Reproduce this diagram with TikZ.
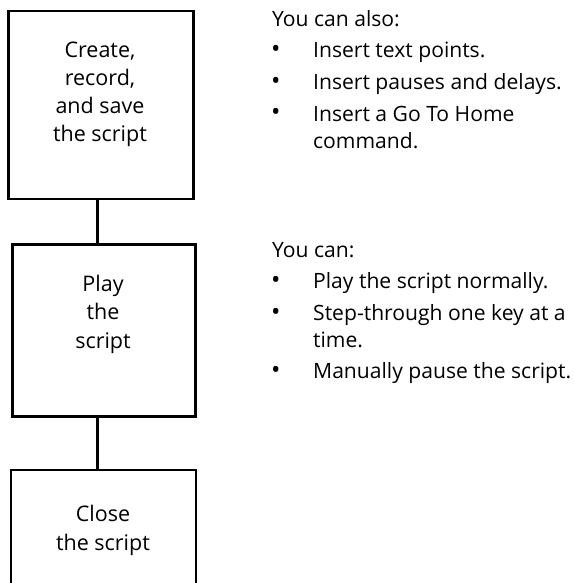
\documentclass[tikz,border=0pt]{standalone}
\usepackage{fontspec}
\setmainfont{Open Sans}
\begin{document}
\begin{tikzpicture}[x=1pt,y=-1pt,
  box/.style={draw,line width=2.6pt,inner sep=0pt},
  link/.style={line width=2.6pt},
  lbl/.style={font=\fontsize{21.5}{28.3}\selectfont, align=center, anchor=base, inner sep=0pt},
  txt/.style={font=\fontsize{21.1}{27}\selectfont, anchor=base west, inner sep=0pt, align=left},
  dot/.style={font=\fontsize{25}{27}\selectfont, anchor=base west, inner sep=0pt}]
\useasboundingbox (0,0) rectangle (573,583);
\clip (0,0) rectangle (573,583);
% boxes
\node[box, minimum width=185pt, minimum height=188pt] (b1) at (101,105) {};
\node[box, minimum width=183pt, minimum height=172pt] (b2) at (104,330.5) {};
\node[box, minimum width=185pt, minimum height=170pt] (b3) at (103.5,555) {};
% box texts (anchored at the baseline of their last line)
\node[lbl] (t1) at (100,142) {Create,\\record,\\and save\\the script};
\node[lbl] (t2) at (103,348) {Play\\the\\script};
\node[lbl] (t3) at (103,550) {Close\\the script};
% connectors
\coordinate (j) at (97.5,0);
\draw[link] (b1.south -| j) -- (b2.north -| j);
\draw[link] (b2.south -| j) -- (b3.north -| j);
% right texts group 1
\node[txt] (h1) at (272,27) {You can also:};
\node[dot] (d11) at (271,58) {•};
\node[txt] (i11) at (313,58) {Insert text points.};
\node[dot] (d12) at (271,90) {•};
\node[txt] (i12) at (313,90) {Insert pauses and delays.};
\node[dot] (d13) at (271,121) {•};
\node[txt] (i13) at (313,148) {Insert a Go To Home\\command.};
% right texts group 2
\node[txt] (h2) at (272,257) {You can:};
\node[dot] (d21) at (271,288) {•};
\node[txt] (i21) at (313,288) {Play the script normally.};
\node[dot] (d22) at (271,320) {•};
\node[txt] (i22) at (313,347) {Step-through one key at a\\time.};
\node[dot] (d23) at (271,378) {•};
\node[txt] (i23) at (313,378) {Manually pause the script.};
\end{tikzpicture}
\end{document}
